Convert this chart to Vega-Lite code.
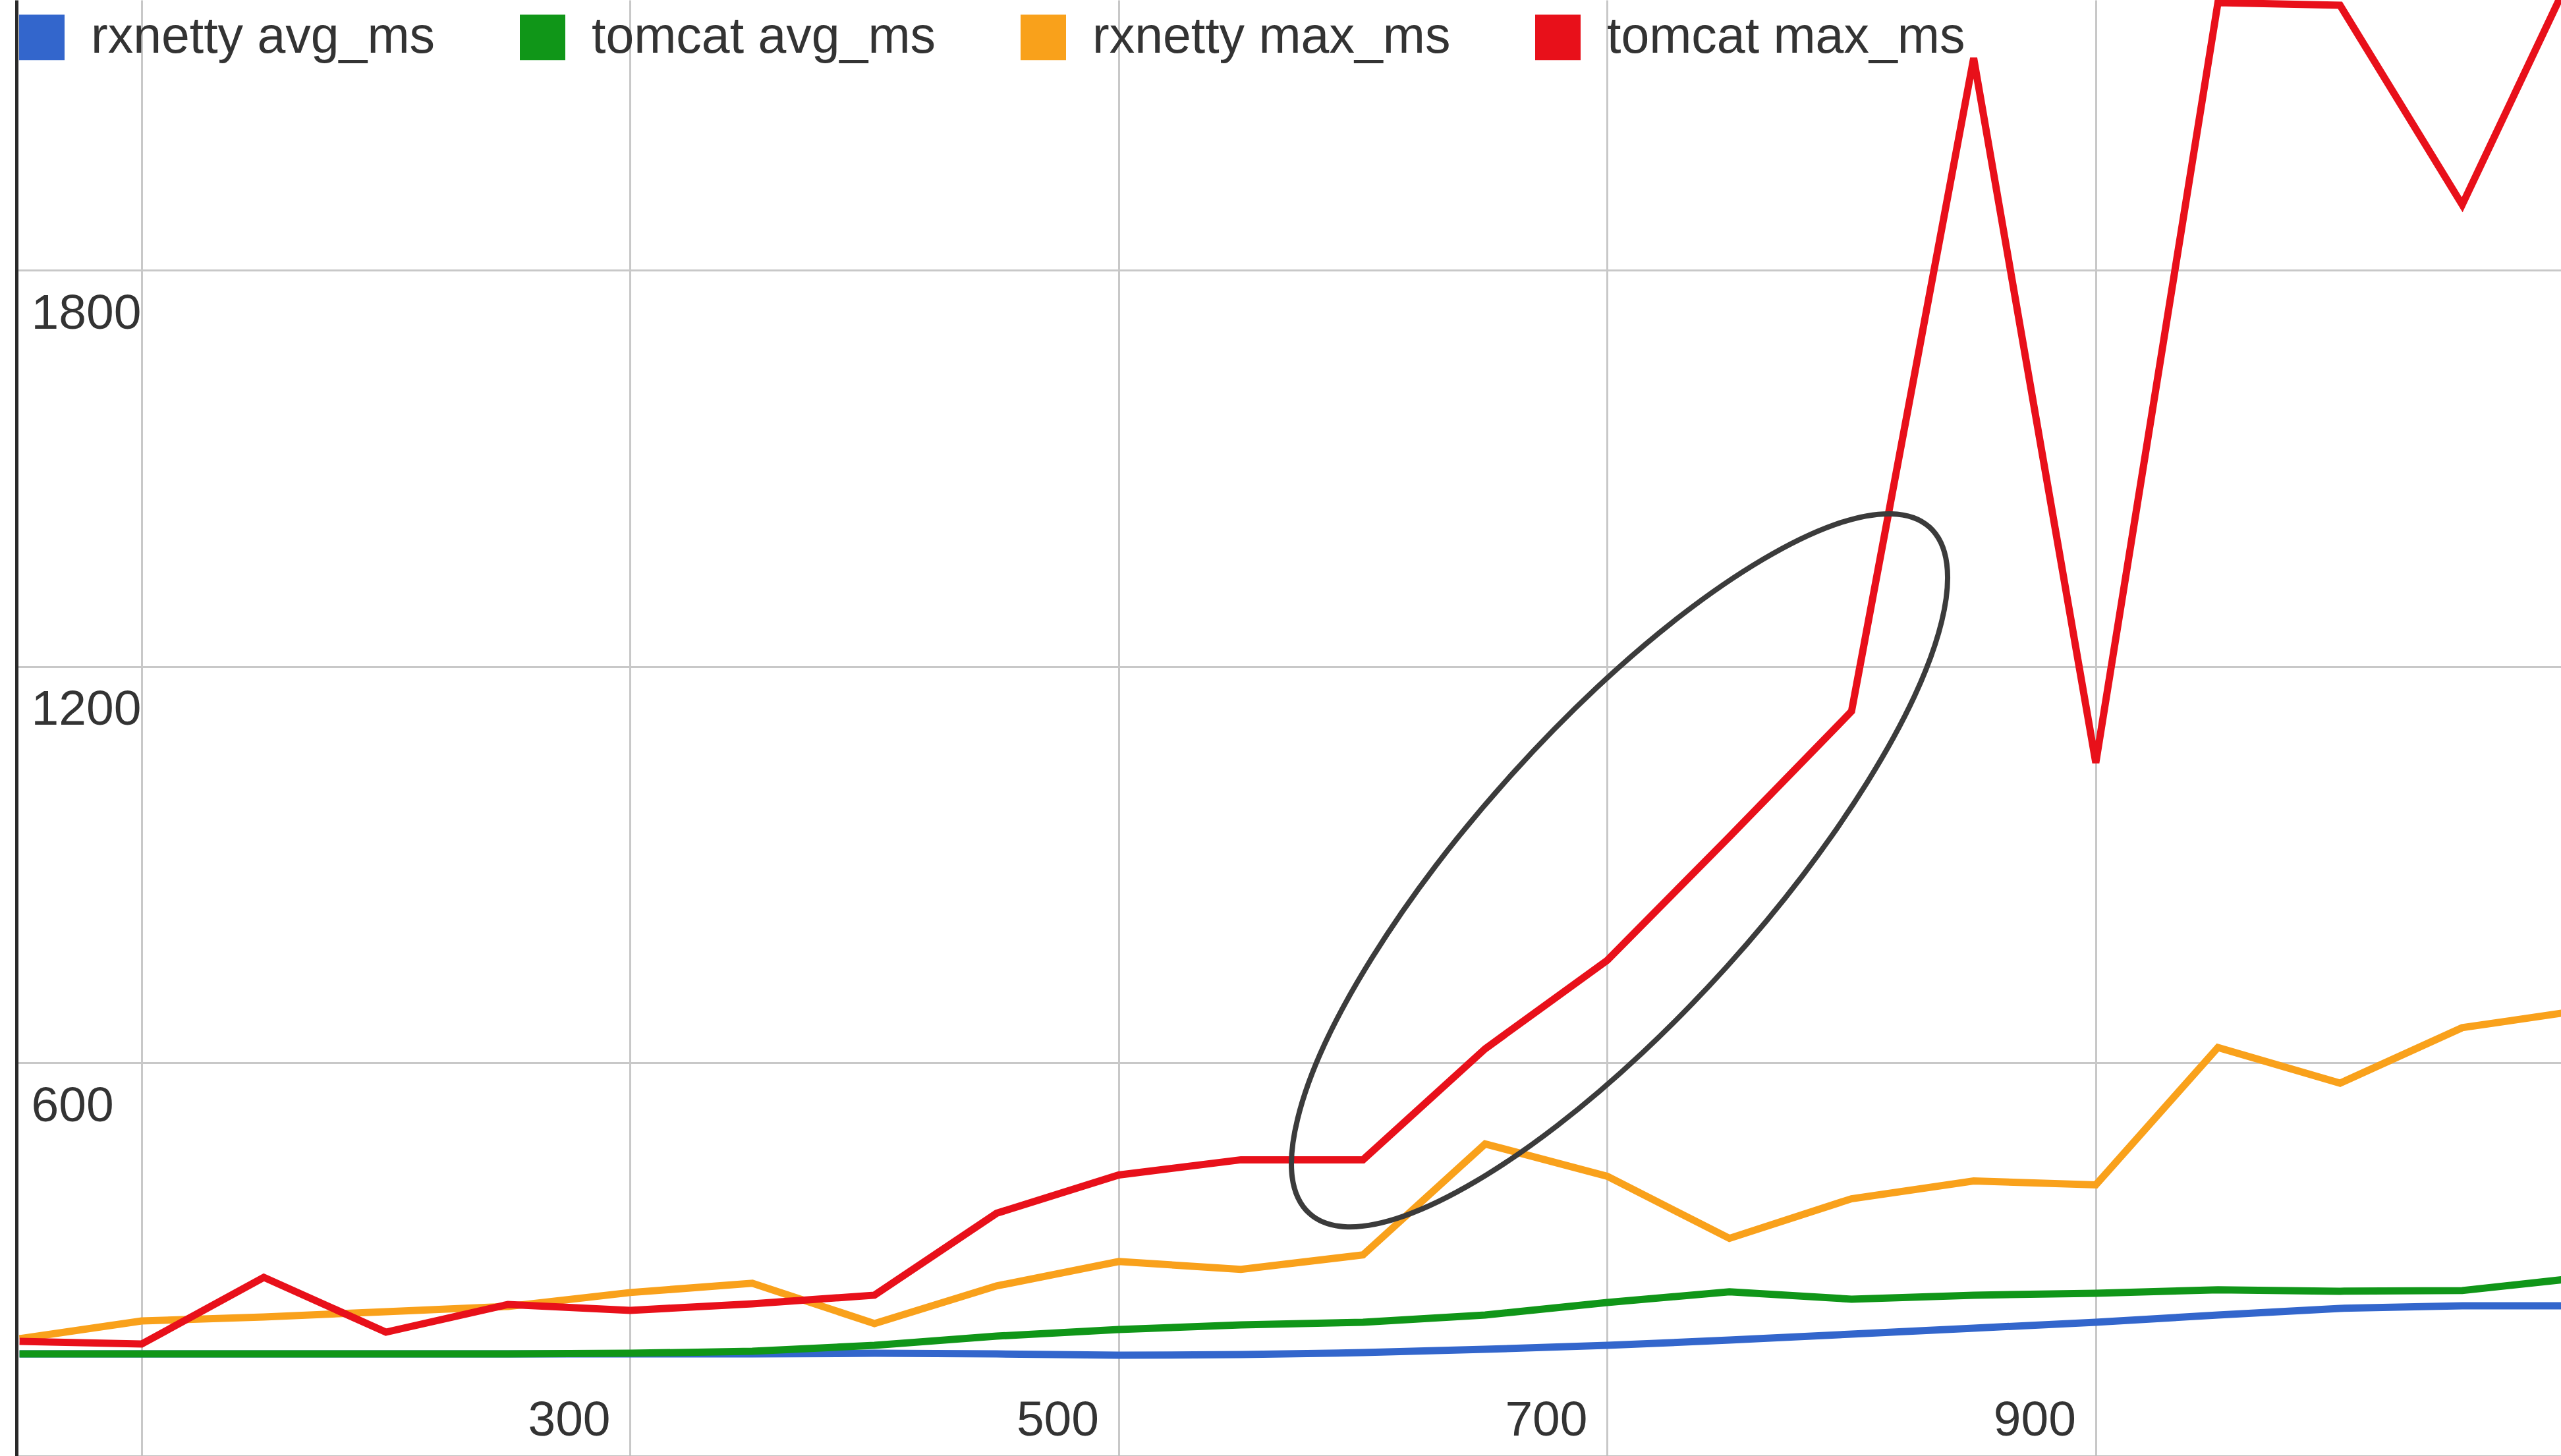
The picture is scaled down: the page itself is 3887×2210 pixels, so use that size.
{
  "$schema": "https://vega.github.io/schema/vega-lite/v6.json",
  "width": 3862,
  "height": 2210,
  "autosize": "none",
  "padding": {"left": 25, "right": 0, "top": 0, "bottom": 0},
  "background": "white",
  "config": {
    "view": {"stroke": null},
    "font": "Liberation Sans"
  },
  "layer": [
    {
      "data": {
        "values": [
          {"c": 50, "series": "rxnetty avg_ms", "ms": 159},
          {"c": 100, "series": "rxnetty avg_ms", "ms": 159},
          {"c": 150, "series": "rxnetty avg_ms", "ms": 159},
          {"c": 200, "series": "rxnetty avg_ms", "ms": 159},
          {"c": 250, "series": "rxnetty avg_ms", "ms": 159},
          {"c": 300, "series": "rxnetty avg_ms", "ms": 159},
          {"c": 350, "series": "rxnetty avg_ms", "ms": 159},
          {"c": 400, "series": "rxnetty avg_ms", "ms": 160},
          {"c": 450, "series": "rxnetty avg_ms", "ms": 159},
          {"c": 500, "series": "rxnetty avg_ms", "ms": 157},
          {"c": 550, "series": "rxnetty avg_ms", "ms": 158},
          {"c": 600, "series": "rxnetty avg_ms", "ms": 161},
          {"c": 650, "series": "rxnetty avg_ms", "ms": 166},
          {"c": 700, "series": "rxnetty avg_ms", "ms": 172},
          {"c": 750, "series": "rxnetty avg_ms", "ms": 180},
          {"c": 800, "series": "rxnetty avg_ms", "ms": 189},
          {"c": 850, "series": "rxnetty avg_ms", "ms": 198},
          {"c": 900, "series": "rxnetty avg_ms", "ms": 207},
          {"c": 950, "series": "rxnetty avg_ms", "ms": 218},
          {"c": 1000, "series": "rxnetty avg_ms", "ms": 228},
          {"c": 1050, "series": "rxnetty avg_ms", "ms": 232},
          {"c": 1100, "series": "rxnetty avg_ms", "ms": 232},
          {"c": 50, "series": "tomcat avg_ms", "ms": 159},
          {"c": 100, "series": "tomcat avg_ms", "ms": 159},
          {"c": 150, "series": "tomcat avg_ms", "ms": 159},
          {"c": 200, "series": "tomcat avg_ms", "ms": 159},
          {"c": 250, "series": "tomcat avg_ms", "ms": 159},
          {"c": 300, "series": "tomcat avg_ms", "ms": 160},
          {"c": 350, "series": "tomcat avg_ms", "ms": 163},
          {"c": 400, "series": "tomcat avg_ms", "ms": 172},
          {"c": 450, "series": "tomcat avg_ms", "ms": 186},
          {"c": 500, "series": "tomcat avg_ms", "ms": 196},
          {"c": 550, "series": "tomcat avg_ms", "ms": 203},
          {"c": 600, "series": "tomcat avg_ms", "ms": 207},
          {"c": 650, "series": "tomcat avg_ms", "ms": 218},
          {"c": 700, "series": "tomcat avg_ms", "ms": 237},
          {"c": 750, "series": "tomcat avg_ms", "ms": 253},
          {"c": 800, "series": "tomcat avg_ms", "ms": 242},
          {"c": 850, "series": "tomcat avg_ms", "ms": 248},
          {"c": 900, "series": "tomcat avg_ms", "ms": 251},
          {"c": 950, "series": "tomcat avg_ms", "ms": 256},
          {"c": 1000, "series": "tomcat avg_ms", "ms": 254},
          {"c": 1050, "series": "tomcat avg_ms", "ms": 255},
          {"c": 1100, "series": "tomcat avg_ms", "ms": 275},
          {"c": 50, "series": "rxnetty max_ms", "ms": 182},
          {"c": 100, "series": "rxnetty max_ms", "ms": 209},
          {"c": 150, "series": "rxnetty max_ms", "ms": 215},
          {"c": 200, "series": "rxnetty max_ms", "ms": 223},
          {"c": 250, "series": "rxnetty max_ms", "ms": 231},
          {"c": 300, "series": "rxnetty max_ms", "ms": 252},
          {"c": 350, "series": "rxnetty max_ms", "ms": 266},
          {"c": 400, "series": "rxnetty max_ms", "ms": 205},
          {"c": 450, "series": "rxnetty max_ms", "ms": 262},
          {"c": 500, "series": "rxnetty max_ms", "ms": 299},
          {"c": 550, "series": "rxnetty max_ms", "ms": 287},
          {"c": 600, "series": "rxnetty max_ms", "ms": 309},
          {"c": 650, "series": "rxnetty max_ms", "ms": 477},
          {"c": 700, "series": "rxnetty max_ms", "ms": 428},
          {"c": 750, "series": "rxnetty max_ms", "ms": 334},
          {"c": 800, "series": "rxnetty max_ms", "ms": 394},
          {"c": 850, "series": "rxnetty max_ms", "ms": 421},
          {"c": 900, "series": "rxnetty max_ms", "ms": 415},
          {"c": 950, "series": "rxnetty max_ms", "ms": 623},
          {"c": 1000, "series": "rxnetty max_ms", "ms": 569},
          {"c": 1050, "series": "rxnetty max_ms", "ms": 653},
          {"c": 1100, "series": "rxnetty max_ms", "ms": 680},
          {"c": 50, "series": "tomcat max_ms", "ms": 178},
          {"c": 100, "series": "tomcat max_ms", "ms": 174},
          {"c": 150, "series": "tomcat max_ms", "ms": 275},
          {"c": 200, "series": "tomcat max_ms", "ms": 192},
          {"c": 250, "series": "tomcat max_ms", "ms": 234},
          {"c": 300, "series": "tomcat max_ms", "ms": 225},
          {"c": 350, "series": "tomcat max_ms", "ms": 235},
          {"c": 400, "series": "tomcat max_ms", "ms": 248},
          {"c": 450, "series": "tomcat max_ms", "ms": 372},
          {"c": 500, "series": "tomcat max_ms", "ms": 430},
          {"c": 550, "series": "tomcat max_ms", "ms": 453},
          {"c": 600, "series": "tomcat max_ms", "ms": 453},
          {"c": 650, "series": "tomcat max_ms", "ms": 621},
          {"c": 700, "series": "tomcat max_ms", "ms": 755},
          {"c": 750, "series": "tomcat max_ms", "ms": 942},
          {"c": 800, "series": "tomcat max_ms", "ms": 1132},
          {"c": 850, "series": "tomcat max_ms", "ms": 2121},
          {"c": 900, "series": "tomcat max_ms", "ms": 1054},
          {"c": 950, "series": "tomcat max_ms", "ms": 2205},
          {"c": 1000, "series": "tomcat max_ms", "ms": 2201},
          {"c": 1050, "series": "tomcat max_ms", "ms": 1899},
          {"c": 1100, "series": "tomcat max_ms", "ms": 2290}
        ]
      },
      "mark": {"type": "line", "strokeWidth": 11, "clip": true, "strokeJoin": "miter"},
      "encoding": {
        "x": {
          "field": "c",
          "type": "quantitative",
          "scale": {"domain": [48.75, 1090.45], "nice": false, "zero": false},
          "axis": {
            "title": null,
            "orient": "bottom",
            "values": [100, 300, 500, 700, 900, 1100],
            "format": "d",
            "labelExpr": "datum.value == 100 || datum.value == 1100 ? '' : datum.label",
            "grid": true,
            "gridColor": "#c8c8c8",
            "gridWidth": 3,
            "ticks": false,
            "tickSize": 0,
            "domain": true,
            "domainColor": "#bdbdbd",
            "domainWidth": 3,
            "labelPadding": -32,
            "labelBaseline": "alphabetic",
            "labelAlign": "center",
            "labelOffset": -93,
            "labelFontSize": 75,
            "labelFont": "Liberation Sans",
            "labelColor": "#333333",
            "labelLimit": 0,
            "labelOverlap": false,
            "labelFlush": false,
            "labelBound": false
          }
        },
        "y": {
          "field": "ms",
          "type": "quantitative",
          "scale": {"domain": [4.5, 2209], "nice": false, "zero": false},
          "axis": {
            "title": null,
            "orient": "left",
            "values": [600, 1200, 1800],
            "format": "d",
            "grid": true,
            "gridColor": "#c8c8c8",
            "gridWidth": 3,
            "ticks": false,
            "tickSize": 0,
            "domain": true,
            "domainColor": "#2a2a2a",
            "domainWidth": 5,
            "labelAlign": "left",
            "labelPadding": -22,
            "labelBaseline": "alphabetic",
            "labelOffset": 88,
            "labelFontSize": 75,
            "labelFont": "Liberation Sans",
            "labelColor": "#333333",
            "labelLimit": 0,
            "labelOverlap": false,
            "labelFlush": false,
            "labelBound": false
          }
        },
        "color": {
          "field": "series",
          "type": "nominal",
          "scale": {
            "domain": ["rxnetty avg_ms", "tomcat avg_ms", "rxnetty max_ms", "tomcat max_ms"],
            "range": ["#3366cc", "#109618", "#f9a11b", "#e8101a"]
          },
          "legend": {
            "title": null,
            "orient": "none",
            "legendX": 0,
            "legendY": 18,
            "direction": "horizontal",
            "padding": 0,
            "symbolType": "square",
            "symbolSize": 4761,
            "symbolStrokeWidth": 0,
            "labelOffset": 36,
            "columnPadding": 124,
            "labelFontSize": 77,
            "labelFont": "Liberation Sans",
            "labelColor": "#333333",
            "labelLimit": 0,
            "encode": {
              "symbols": {
                "update": {
                  "fill": {"scale": "color", "field": "value"},
                  "stroke": {"value": "transparent"},
                  "opacity": {"value": 1}
                }
              }
            }
          }
        }
      }
    },
    {
      "data": {
        "values": [
          {"c": 831.9, "ms": 1410.9, "o": 1},
          {"c": 839.0, "ms": 1355.2, "o": 2},
          {"c": 836.9, "ms": 1268.0, "o": 3},
          {"c": 825.8, "ms": 1155.1, "o": 4},
          {"c": 806.4, "ms": 1024.4, "o": 5},
          {"c": 780.2, "ms": 884.3, "o": 6},
          {"c": 748.8, "ms": 744.8, "o": 7},
          {"c": 714.5, "ms": 615.4, "o": 8},
          {"c": 679.5, "ms": 504.6, "o": 9},
          {"c": 646.2, "ms": 420.4, "o": 10},
          {"c": 617.0, "ms": 368.1, "o": 11},
          {"c": 593.7, "ms": 351.5, "o": 12},
          {"c": 578.1, "ms": 371.7, "o": 13},
          {"c": 571.0, "ms": 427.3, "o": 14},
          {"c": 573.2, "ms": 514.5, "o": 15},
          {"c": 584.2, "ms": 627.4, "o": 16},
          {"c": 603.6, "ms": 758.2, "o": 17},
          {"c": 629.8, "ms": 898.3, "o": 18},
          {"c": 661.2, "ms": 1037.7, "o": 19},
          {"c": 695.5, "ms": 1167.2, "o": 20},
          {"c": 730.5, "ms": 1277.9, "o": 21},
          {"c": 763.8, "ms": 1362.2, "o": 22},
          {"c": 793.0, "ms": 1414.5, "o": 23},
          {"c": 816.3, "ms": 1431.0, "o": 24}
        ]
      },
      "mark": {"type": "line", "interpolate": "cardinal-closed", "color": "#3b3b3b", "strokeWidth": 8, "clip": true},
      "encoding": {
        "x": {"field": "c", "type": "quantitative"},
        "y": {"field": "ms", "type": "quantitative"},
        "order": {"field": "o", "type": "quantitative"}
      }
    }
  ]
}
